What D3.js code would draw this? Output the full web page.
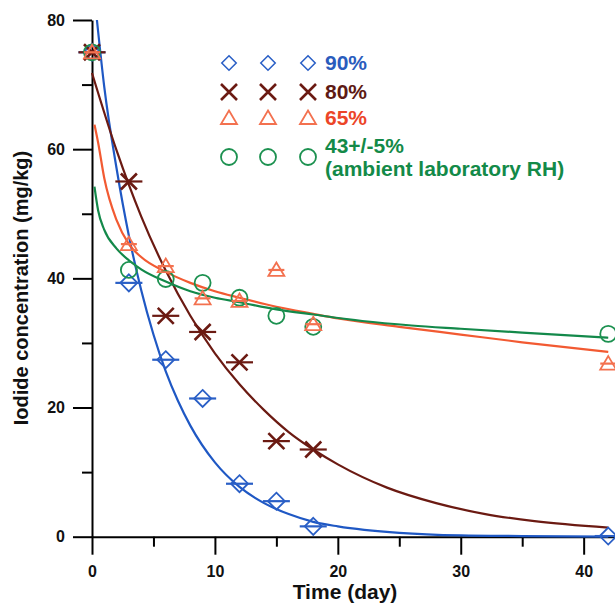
<!DOCTYPE html>
<html>
<head>
<meta charset="utf-8">
<script src="https://cdnjs.cloudflare.com/ajax/libs/d3/7.8.5/d3.min.js"></script>
<style>
  body { margin: 0; background: #fff; }
  text { font-family: "Liberation Sans", Arial, sans-serif; font-weight: bold; }
</style>
</head>
<body>
<div id="chart"></div>
<script>
// measured iodide (mg/kg) per storage day
var days = [0, 3, 6, 9, 12, 15, 18, 42];
var rh90 = [75, 39.3, 27.4, 21.4, 8.2, 5.5, 1.6, 0.1];
var rh80 = [75, 55.0, 34.2, 31.7, 27.0, 14.8, 13.5, null];
var rh65 = [75, 45.3, 41.9, 36.9, 36.5, 41.3, 32.9, 26.8];
var rh43 = [75, 41.3, 39.9, 39.3, 37.0, 34.2, 32.5, 31.4];
var dayErr = [1.1, 1.1, 0.65, 0];

// fitted curves, [day, value]
var fit90 = [[0.4, 80], [1, 69.6], [2, 57], [3, 46.6], [4, 38.2], [5, 31.3], [6, 25.6], [7, 21.0], [8, 17.2],
  [10, 11.5], [12, 7.7], [14, 5.2], [16, 3.5], [18, 2.3], [20, 1.6], [25, 0.6], [30, 0.2], [35, 0.1], [42, 0.0]];
var fit80 = [[0, 71.8], [2, 59.8], [4, 49.6], [6, 41.2], [8, 34.2], [10, 28.4], [12, 23.6], [14, 19.6], [16, 16.2],
  [18, 13.5], [20, 11.2], [24, 7.6], [28, 5.2], [32, 3.5], [36, 2.4], [42, 1.4]];
var fit65 = [[0.2, 63.8], [0.5, 61], [1, 55.5], [2, 49], [3, 45.3], [4, 43.3], [6, 41.0], [8, 39.3], [10, 38.0],
  [12, 37.0], [15, 35.6], [18, 34.5], [20, 33.8], [25, 32.5], [30, 31.3], [35, 30.1], [42, 28.6]];
var fit43 = [[0.2, 54.2], [0.5, 50.5], [1, 47.5], [2, 44.6], [3, 42.8], [4, 41.4], [6, 39.5], [8, 38.0], [10, 37.0],
  [12, 36.3], [15, 35.2], [18, 34.4], [22, 33.4], [26, 32.7], [30, 32.2], [35, 31.6], [42, 30.8]];

var labels = ["90%", "80%", "65%", "43+/-5%"];
var subLabel = "(ambient laboratory RH)";
var xTicks = [0, 10, 20, 30, 40];
var xMinor = [5, 15, 25, 35];
var yTicks = [0, 20, 40, 60, 80];
var yMinor = [10, 30, 50, 70];

var width = 615, height = 605;
var lineCol = ["#1f58c4", "#6b1a12", "#f25a32", "#13894a"];
var markCol = ["#2a5fc6", "#6b1a12", "#f3714f", "#1c9150"];
var textCol = ["#2a5cbd", "#5e1a14", "#ec4528", "#138a48"];
var shapes = ["diamond", "cross", "triangle", "circle"];

var svg = d3.select('#chart').append('svg').attr('width', width).attr('height', height);

var x = d3.scaleLinear().domain([0, 42.55]).range([92, 615]);
var y = d3.scaleLinear().domain([0, 80]).range([536.7, 20]);

function shapePath(type) {
  if (type == "diamond") return "M0,-8.5L8.5,0L0,8.5L-8.5,0Z";
  if (type == "cross") return "M-8,-8L8,8M8,-8L-8,8";
  if (type == "triangle") return "M0,-7.5L8,6L-8,6Z";
  return "M8,0A8,8 0 1,1 -8,0A8,8 0 1,1 8,0Z";
}

// axes
var xAxis = svg.append('g').attr('transform', 'translate(0,' + y(0) + ')')
  .call(d3.axisBottom(x).tickValues(xTicks).tickSize(18).tickSizeOuter(0).tickPadding(11));
var xAxisMinor = svg.append('g').attr('transform', 'translate(0,' + y(0) + ')')
  .call(d3.axisBottom(x).tickValues(xMinor).tickSize(10).tickFormat(''));
var yAxis = svg.append('g').attr('transform', 'translate(' + x(0) + ',0)')
  .call(d3.axisLeft(y).tickValues(yTicks).tickSize(19).tickSizeOuter(0).tickPadding(8));
var yAxisMinor = svg.append('g').attr('transform', 'translate(' + x(0) + ',0)')
  .call(d3.axisLeft(y).tickValues(yMinor).tickSize(10).tickFormat(''));

svg.selectAll('.domain, .tick line').attr('stroke', '#000').attr('stroke-width', 2);
xAxisMinor.select('.domain').remove();
yAxisMinor.select('.domain').remove();
svg.selectAll('.tick text').attr('font-size', 16).attr('fill', '#111')
  .style('font-family', '"Liberation Sans", Arial, sans-serif').style('font-weight', 'bold');

svg.append('text').attr('x', 345).attr('y', 599).attr('text-anchor', 'middle')
  .attr('font-size', 21).attr('fill', '#111').text('Time (day)');
svg.append('text').attr('transform', 'translate(28,288) rotate(-90)').attr('text-anchor', 'middle')
  .attr('font-size', 20).attr('fill', '#111').text('Iodide concentration (mg/kg)');

// fit curves
var line = d3.line().x(function (d) { return x(d[0]); }).y(function (d) { return y(d[1]); }).curve(d3.curveMonotoneX);
[fit90, fit80, fit65, fit43].forEach(function (f, i) {
  svg.append('path').attr('d', line(f)).attr('fill', 'none')
    .attr('stroke', lineCol[i]).attr('stroke-width', 2.2);
});

// markers with horizontal error bars
[rh90, rh80, rh43, rh65].forEach(function (vals) {
  var i = [rh90, rh80, rh65, rh43].indexOf(vals);
  var g = svg.append('g');
  days.forEach(function (d, j) {
    if (vals[j] == null) return;
    if (dayErr[i] > 0) {
      g.append('line').attr('x1', x(d - dayErr[i])).attr('x2', x(d + dayErr[i]))
        .attr('y1', y(vals[j])).attr('y2', y(vals[j]))
        .attr('stroke', markCol[i]).attr('stroke-width', 2.2);
    }
    g.append('path').attr('d', shapePath(shapes[i]))
      .attr('transform', 'translate(' + x(d) + ',' + y(vals[j]) + ')')
      .attr('fill', 'none').attr('stroke', markCol[i])
      .attr('stroke-width', shapes[i] == "cross" ? 2.6 : 1.8);
  });
});

// legend
var legX = [229, 268, 308];
var legY = [63, 92, 118, 157];
labels.forEach(function (lab, i) {
  legX.forEach(function (lx) {
    svg.append('path').attr('d', shapePath(shapes[i]))
      .attr('transform', 'translate(' + lx + ',' + legY[i] + ')' + (i == 0 ? ' scale(0.85)' : ''))
      .attr('fill', 'none').attr('stroke', markCol[i])
      .attr('stroke-width', shapes[i] == "cross" ? 2.6 : 1.8);
  });
  svg.append('text').attr('x', 325).attr('y', i == 3 ? 153 : legY[i] + 7)
    .attr('font-size', 21).attr('fill', textCol[i]).text(lab);
});
svg.append('text').attr('x', 325).attr('y', 176).attr('font-size', 21).attr('fill', textCol[3]).text(subLabel);
</script>
</body>
</html>
